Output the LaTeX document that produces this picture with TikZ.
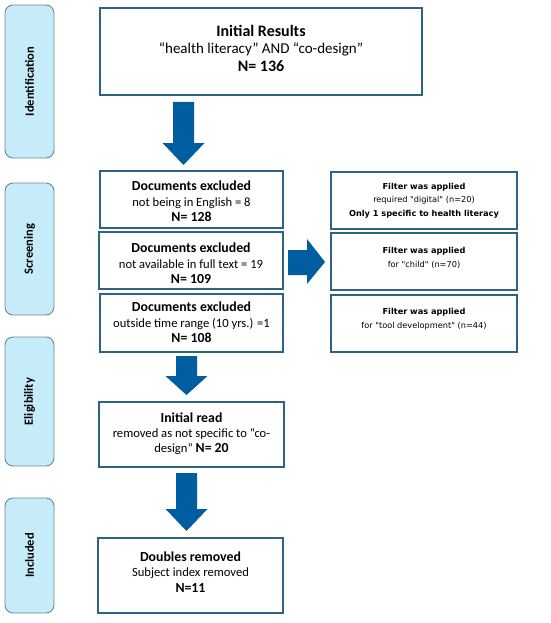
\documentclass[tikz,border=0pt]{standalone}
\usepackage{fontspec}
\setmainfont{Carlito}
\newfontfamily\filterfont{DejaVu Sans}
\definecolor{arrowblue}{RGB}{0,94,160}
\definecolor{boxline}{RGB}{46,100,130}
\definecolor{sidefill}{RGB}{198,236,250}
\definecolor{sideline}{RGB}{105,135,155}
\newcommand{\hb}[1]{{\fontsize{13.8}{15.5}\selectfont\bfseries #1}}
\newcommand{\hbb}[1]{{\fontsize{16}{17.5}\selectfont\bfseries #1}}
\tikzset{
  mainbox/.style={draw=boxline, line width=1.1pt, fill=white, inner sep=0pt},
  maintext/.style={inner sep=0pt, align=center, font=\fontsize{12.6}{15.5}\selectfont},
  filterbox/.style={draw=boxline, line width=1.1pt, fill=white, inner sep=0pt,
    minimum width=186pt, minimum height=57pt},
  filtertext/.style={inner sep=0pt, align=center, font=\filterfont\fontsize{8.2}{13.5}\selectfont},
  sidebox/.style={draw=sideline, line width=0.9pt, fill=sidefill, rounded corners=8pt,
    minimum width=49pt, inner sep=0pt},
  sidetext/.style={rotate=90, font=\bfseries\fontsize{12.5}{14}\selectfont},
  blockarrow/.style={fill=arrowblue, draw=none}
}
\newcommand{\vblock}[4]{% x, top, headstart, tip
  \fill[blockarrow] (#1-10.5,#2) -- (#1+10.5,#2) -- (#1+10.5,#3) -- (#1+21,#3) -- (#1,#4)
    -- (#1-21,#3) -- (#1-10.5,#3) -- cycle;}
\begin{document}
\begin{tikzpicture}[x=1pt,y=-1pt]
\useasboundingbox (0,0) rectangle (550,623);

% side labels
\node[sidebox, minimum height=153pt] (sid) at (29.5,81.5) {};
\node[sidetext] (sidt) at (sid.center) {Identification};
\node[sidebox, minimum height=132pt] (sscr) at (29.5,249) {};
\node[sidetext] (sscrt) at (sscr.center) {Screening};
\node[sidebox, minimum height=129pt] (selig) at (29.5,401.5) {};
\node[sidetext] (seligt) at (selig.center) {Eligibility};
\node[sidebox, minimum height=115pt] (sinc) at (29.5,555.5) {};
\node[sidetext] (sinct) at (sinc.center) {Included};

% main boxes
\node[mainbox, minimum width=322pt, minimum height=87pt] (init) at (261,51.5) {};
\node[maintext, font=\fontsize{15}{17.5}\selectfont] (initt) at (261,48)
  {\hbb{Initial Results}\\``health literacy'' AND ``co-design''\\\hbb{N= 136}};
\node[mainbox, minimum width=183pt, minimum height=57pt] (ex1) at (191.5,199.5) {};
\node[maintext] (ex1t) at (191.5,201.5)
  {\hb{Documents excluded}\\not being in English = 8\\\hb{N= 128}};
\node[mainbox, minimum width=184pt, minimum height=57pt] (ex2) at (191,260.5) {};
\node[maintext] (ex2t) at (191,263.5)
  {\hb{Documents excluded}\\not available in full text = 19\\\hb{N= 109}};
\node[mainbox, minimum width=183pt, minimum height=58pt] (ex3) at (191.5,323) {};
\node[maintext] (ex3t) at (191.5,322.5)
  {\hb{Documents excluded}\\outside time range (10 yrs.) =1\\\hb{N= 108}};
\node[mainbox, minimum width=185pt, minimum height=65pt] (read) at (191.5,434.5) {};
\node[maintext, font=\fontsize{12.6}{15}\selectfont] (readt) at (191.5,434)
  {\hb{Initial read}\\removed as not specific to ``co-\\design'' \hb{N= 20}};
\node[mainbox, minimum width=185pt, minimum height=75pt] (dbl) at (190.5,575.5) {};
\node[maintext] (dblt) at (190.5,572)
  {\hb{Doubles removed}\\Subject index removed\\\hb{N=11}};

% filter boxes
\node[filterbox] (f1) at (424,200.5) {};
\node[filtertext] (f1t) at (424,200.5)
  {\textbf{Filter was applied}\\required "digital" (n=20)\\\textbf{Only 1 specific to health literacy}};
\node[filterbox] (f2) at (424,261.5) {};
\node[filtertext] (f2t) at (424,258)
  {\textbf{Filter was applied}\\for "child" (n=70)};
\node[filterbox] (f3) at (424,323.5) {};
\node[filtertext] (f3t) at (424,319)
  {\textbf{Filter was applied}\\for "tool development" (n=44)};

% block arrows
\vblock{183.5}{102}{143}{165}
\vblock{186.5}{356}{376}{395}
\vblock{186.5}{473}{509}{531}
\fill[blockarrow] (288,250) -- (307,250) -- (307,239) -- (325,262) -- (307,284)
  -- (307,275) -- (288,275) -- cycle;
\end{tikzpicture}
\end{document}
